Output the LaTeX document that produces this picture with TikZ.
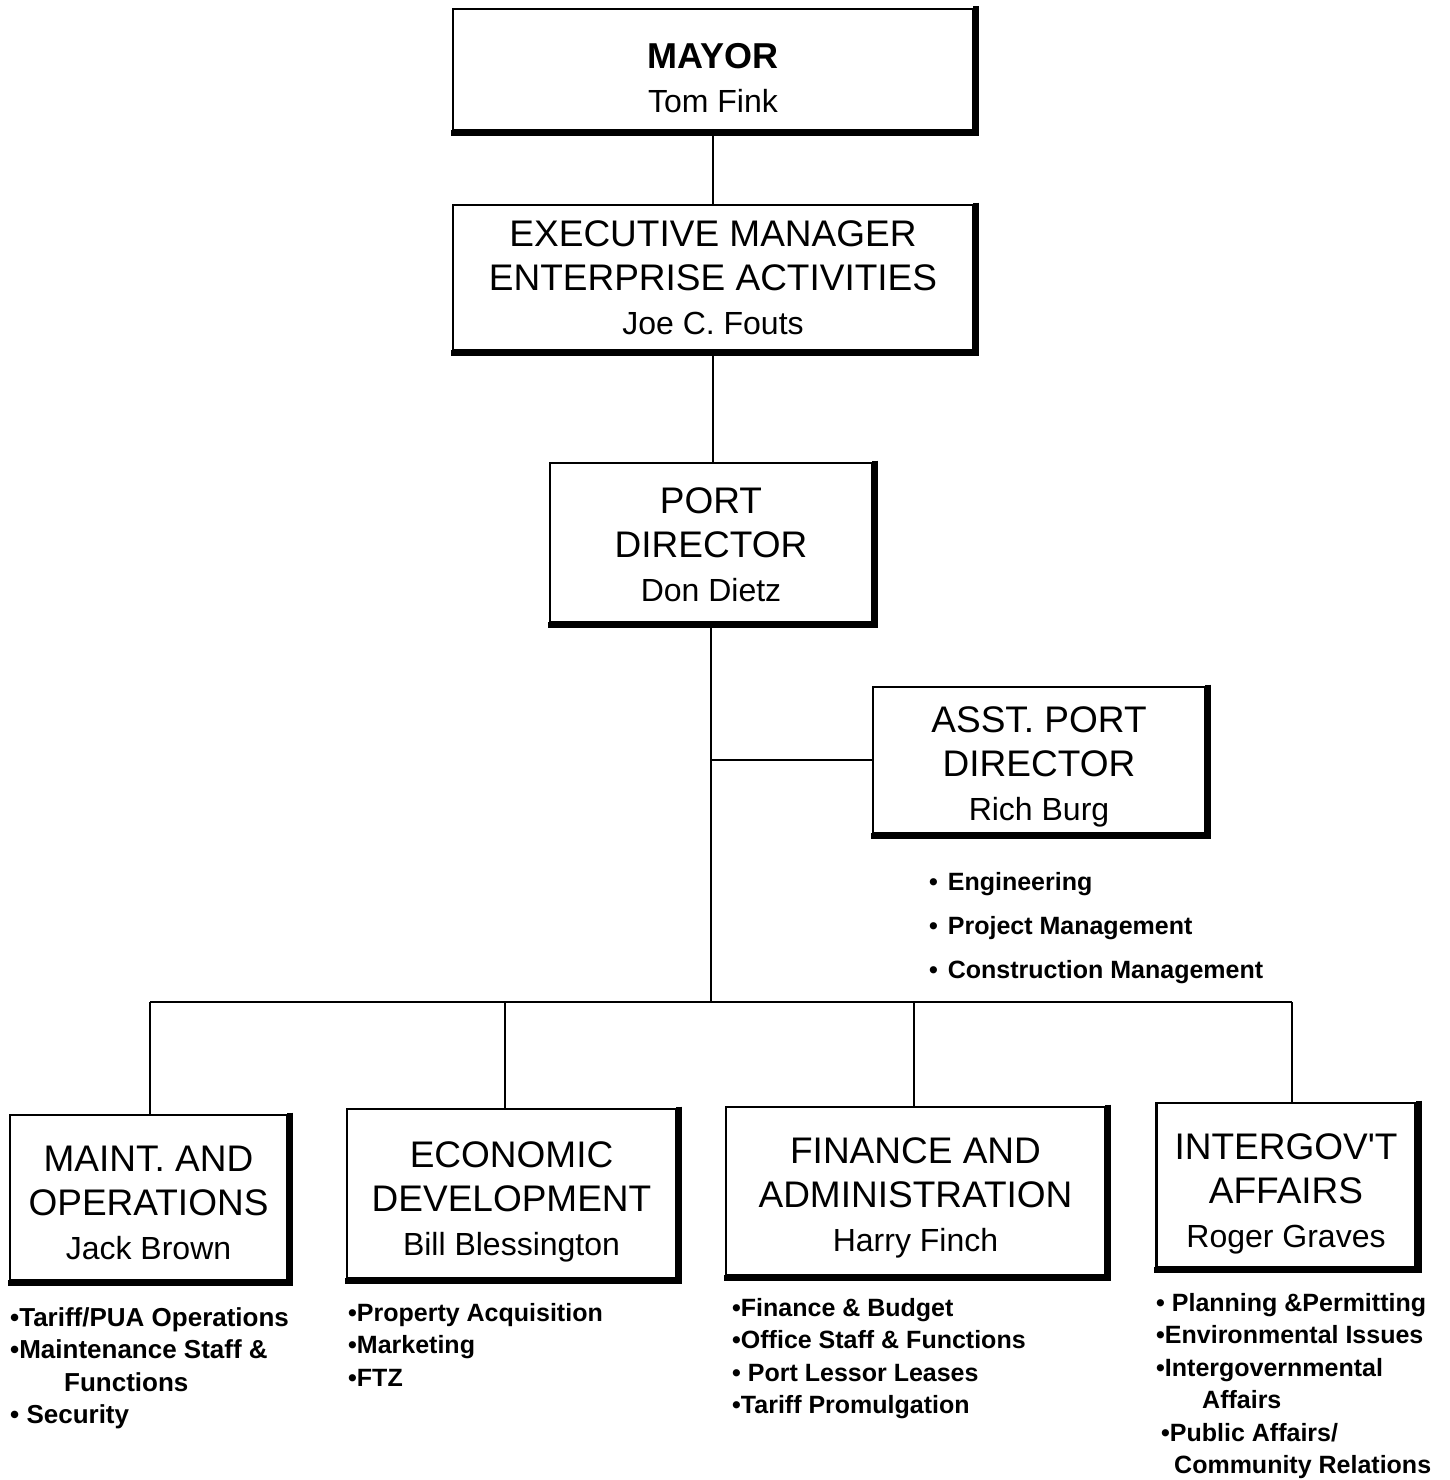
\documentclass[tikz,border=0pt]{standalone}
\usepackage{fontspec}
\setmainfont{Liberation Sans}
\newcommand\ttl{\fontsize{37}{44}\selectfont}
\newcommand\nme{\fontsize{32}{46}\selectfont}
\newcommand\lst{\fontsize{25}{32.5}\selectfont\bfseries}
\newcommand\tp[1]{\rule{0pt}{#1}}
\newcommand\boxshadow[1]{\draw[line width=6pt] ([xshift=1.75pt,yshift=1.25pt]#1.north east) -- ([xshift=1.75pt,yshift=-1.75pt]#1.south east) -- ([xshift=-1.25pt,yshift=-1.75pt]#1.south west);}
\begin{document}
\begin{tikzpicture}[x=1pt,y=-1pt,
  orgbox/.style={draw, line width=2.5pt, inner sep=0pt, align=center, font=\ttl},
  conn/.style={line width=2.2pt},
  bul/.style={anchor=north west, inner sep=0pt, align=left, font=\lst}]
\fill[white] (0,0) rectangle (1450,1480);
\useasboundingbox (0,0) rectangle (1450,1480);

% boxes
\node[orgbox, minimum width=520pt, minimum height=121pt] (mayor) at (713,69.5)
  {\tp{42pt}{\fontsize{36}{44}\selectfont\bfseries MAYOR}\\{\nme Tom Fink}};
\node[orgbox, minimum width=520pt, minimum height=145pt] (exec) at (713,277.5)
  {EXECUTIVE MANAGER\\ENTERPRISE ACTIVITIES\\{\nme Joe C. Fouts}};
\node[orgbox, minimum width=322pt, minimum height=159pt] (port) at (711,542.5)
  {\tp{30pt}PORT\\DIRECTOR\\{\nme Don Dietz}};
\node[orgbox, minimum width=332pt, minimum height=146pt] (asst) at (1039,760)
  {\tp{39pt}ASST. PORT\\DIRECTOR\\{\nme Rich Burg}};
\node[orgbox, minimum width=277pt, minimum height=165pt] (maint) at (148.5,1197.5)
  {\tp{37pt}MAINT. AND\\OPERATIONS\\{\nme Jack Brown}};
\node[orgbox, minimum width=329pt, minimum height=169pt] (econ) at (511.5,1193.5)
  {\tp{43pt}ECONOMIC\\DEVELOPMENT\\{\nme Bill Blessington}};
\node[orgbox, minimum width=379pt, minimum height=168pt] (fin) at (915.5,1191)
  {\tp{39pt}FINANCE AND\\ADMINISTRATION\\{\nme Harry Finch}};
\node[orgbox, minimum width=259pt, minimum height=164pt] (igov) at (1286,1185)
  {\tp{43pt}INTERGOV\textquotesingle T\\AFFAIRS\\{\nme Roger Graves}};

\foreach \n in {mayor,exec,port,asst,maint,econ,fin,igov}{\boxshadow{\n}}

% connectors
\coordinate (bus) at (712,1002);
\coordinate (d1) at (150,1002);
\coordinate (d2) at (505,1002);
\coordinate (d3) at (914,1002);
\coordinate (d4) at (1292,1002);
\draw[conn] (mayor) -- (exec);
\draw[conn] (exec) -- (exec.south |- port.north);
\draw[conn] (port.south) -- (port.south |- bus);
\draw[conn] (asst.west) -- (asst.west -| port.south);
\draw[conn] (d1) -- (d4);
\draw[conn] (d1) -- (d1 |- maint.north);
\draw[conn] (d2) -- (d2 |- econ.north);
\draw[conn] (d3) -- (d3 |- fin.north);
\draw[conn] (d4) -- (d4 |- igov.north);

% lists
\node[bul, font=\fontsize{25}{44}\selectfont\bfseries] (asstl) at (929,872)
  {•\hspace{3pt} Engineering\\•\hspace{3pt} Project Management\\•\hspace{3pt} Construction Management};
\node[bul, font=\fontsize{26}{32.5}\selectfont\bfseries] (maintl) at (10,1307)
  {•Tariff/PUA Operations\\•Maintenance Staff \&\\\hspace*{54pt}Functions\\• Security};
\node[bul] (econl) at (348,1303)
  {•Property Acquisition\\•Marketing\\•FTZ};
\node[bul] (finl) at (732,1298)
  {•Finance \& Budget\\•Office Staff \& Functions\\• Port Lessor Leases\\•Tariff Promulgation};
\node[bul] (igovl) at (1156,1293)
  {• Planning \&Permitting\\•Environmental Issues\\•Intergovernmental\\\hspace*{46pt}Affairs\\\hspace*{5pt}•Public Affairs/\\\hspace*{18pt}Community Relations};
\end{tikzpicture}
\end{document}
